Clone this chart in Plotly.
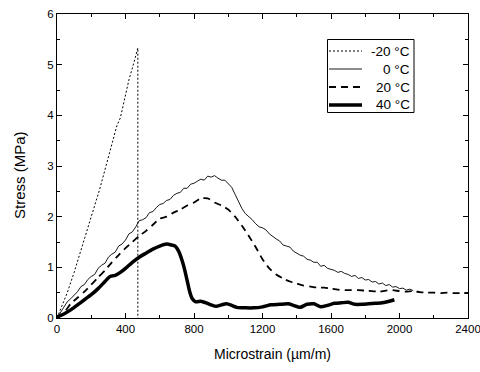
import plotly.graph_objects as go

# -20 °C
x_m20 = [0, 30, 60, 100, 150, 200, 250, 290, 320, 350, 370, 390, 420, 450, 472, 472]
y_m20 = [0.0, 0.25, 0.50, 0.90, 1.45, 2.00, 2.55, 3.05, 3.45, 3.80, 3.95, 4.25, 4.70, 5.05, 5.33, 0.0]

# 0 °C
x_0 = [0, 20, 40, 60, 80, 100, 120, 140, 160, 180, 200, 220, 240, 260, 280, 300, 320, 340, 360, 380,
       400, 420, 440, 460, 480, 500, 520, 540, 560, 580, 600, 620, 640, 660, 680, 700, 720, 740, 760, 780,
       800, 820, 840, 860, 880, 900, 920, 940, 960, 980, 1000, 1020, 1040, 1060, 1080, 1100, 1120, 1140,
       1160, 1180, 1200, 1220, 1240, 1260, 1280, 1300, 1320, 1340, 1360, 1380, 1400, 1420, 1440, 1460,
       1480, 1500, 1520, 1540, 1560, 1580, 1600, 1620, 1640, 1660, 1680, 1700, 1720, 1740, 1760, 1780,
       1800, 1820, 1840, 1860, 1880, 1900, 1920, 1940, 1960, 1980, 2000, 2020, 2040, 2060, 2080]
y_0 = [0.00, 0.10, 0.22, 0.32, 0.38, 0.45, 0.52, 0.62, 0.66, 0.76, 0.82, 0.86, 0.98, 1.04, 1.08, 1.20,
       1.26, 1.30, 1.42, 1.46, 1.54, 1.66, 1.70, 1.80, 1.92, 1.94, 1.98, 2.08, 2.10, 2.18, 2.24, 2.26,
       2.32, 2.34, 2.42, 2.46, 2.48, 2.56, 2.56, 2.64, 2.66, 2.70, 2.74, 2.72, 2.80, 2.78, 2.81, 2.76,
       2.72, 2.72, 2.66, 2.58, 2.44, 2.30, 2.16, 2.06, 2.00, 1.94, 1.86, 1.80, 1.78, 1.74, 1.66, 1.60,
       1.56, 1.52, 1.44, 1.42, 1.40, 1.32, 1.28, 1.24, 1.22, 1.16, 1.14, 1.10, 1.10, 1.02, 1.04, 0.98,
       0.96, 0.94, 0.90, 0.92, 0.88, 0.86, 0.82, 0.84, 0.78, 0.80, 0.75, 0.76, 0.71, 0.72, 0.67, 0.69,
       0.64, 0.66, 0.61, 0.62, 0.58, 0.59, 0.55, 0.57, 0.54]

# 20 °C
x_20 = [0, 40, 80, 120, 160, 200, 240, 280, 320, 360, 400, 440, 480, 520, 560, 600, 640, 680, 720, 760,
        800, 840, 880, 920, 960, 1000, 1040, 1080, 1120, 1160, 1200, 1240, 1280, 1320, 1360, 1400, 1440,
        1480, 1520, 1560, 1600, 1640, 1680, 1720, 1760, 1800, 1840, 1880, 1920, 1960, 2000, 2040, 2080,
        2120, 2160, 2200, 2240, 2280, 2320, 2360, 2400]
y_20 = [0.00, 0.10, 0.28, 0.40, 0.52, 0.66, 0.80, 0.94, 1.10, 1.24, 1.38, 1.50, 1.62, 1.72, 1.84, 1.96,
        2.00, 2.08, 2.14, 2.22, 2.28, 2.36, 2.36, 2.28, 2.22, 2.14, 2.00, 1.82, 1.62, 1.40, 1.16, 0.98,
        0.86, 0.78, 0.72, 0.68, 0.64, 0.62, 0.60, 0.60, 0.58, 0.56, 0.55, 0.55, 0.55, 0.54, 0.53, 0.52,
        0.54, 0.55, 0.53, 0.52, 0.53, 0.51, 0.50, 0.50, 0.49, 0.50, 0.49, 0.49, 0.49]

# 40 °C
x_40 = [0, 40, 80, 120, 160, 200, 240, 280, 310, 340, 370, 400, 440, 480, 520, 560, 600, 640, 670, 690,
        710, 730, 745, 760, 775, 790, 810, 840, 870, 900, 930, 960, 990, 1020, 1050, 1100, 1150, 1200,
        1250, 1300, 1350, 1380, 1420, 1460, 1500, 1540, 1580, 1620, 1660, 1700, 1740, 1780, 1820, 1860,
        1900, 1940, 1970]
y_40 = [0.02, 0.08, 0.16, 0.26, 0.36, 0.46, 0.58, 0.72, 0.82, 0.84, 0.90, 0.98, 1.10, 1.20, 1.28, 1.36,
        1.42, 1.46, 1.44, 1.42, 1.32, 1.14, 0.96, 0.74, 0.52, 0.38, 0.32, 0.33, 0.30, 0.26, 0.23, 0.26,
        0.28, 0.25, 0.21, 0.20, 0.20, 0.22, 0.26, 0.27, 0.28, 0.25, 0.21, 0.27, 0.28, 0.22, 0.25, 0.29,
        0.30, 0.31, 0.27, 0.27, 0.28, 0.29, 0.30, 0.33, 0.36]

names = ["-20 °C", "0 °C", "20 °C", "40 °C"]
x_ticks = [0, 400, 800, 1200, 1600, 2000, 2400]
y_ticks = [0, 1, 2, 3, 4, 5, 6]

W, H = 480, 372
L, R, T, B = 57, 12, 14, 54
PW, PH = W - L - R, H - T - B
FONT = "Liberation Sans, Arial"


def px(xp):
    return (xp - L) / PW


def py(yp):
    return (H - B - yp) / PH


styles = [
    dict(color="black", width=1, dash="2px,2px"),
    dict(color="black", width=0.9),
    dict(color="black", width=1.8, dash="7px,5px"),
    dict(color="black", width=3.5),
]
shapes_line = ["linear", "linear", "spline", "spline"]

fig = go.Figure()
for xs, ys, nm, st, shp in zip([x_m20, x_0, x_20, x_40], [y_m20, y_0, y_20, y_40], names, styles, shapes_line):
    line = dict(st, shape=shp)
    if shp == "spline":
        line["smoothing"] = 0.6
    fig.add_trace(go.Scatter(x=xs, y=ys, mode="lines", name=nm, line=line, showlegend=False))

axis_common = dict(showgrid=False, zeroline=False, showline=True, linecolor="black", linewidth=1,
                   mirror="allticks", ticks="inside", ticklen=5, tickcolor="black", automargin=False,
                   ticklabeloverflow="allow",
                   tickfont=dict(family=FONT, size=11.5, color="black"))

fig.update_xaxes(range=[0, 2400], tickvals=x_ticks,
                 minor=dict(ticks="inside", ticklen=3, dtick=200, tick0=0, tickcolor="black"),
                 **axis_common)
fig.update_yaxes(range=[0, 6], tickvals=y_ticks,
                 minor=dict(ticks="inside", ticklen=3, dtick=0.5, tick0=0, tickcolor="black"),
                 **axis_common)

# legend box drawn manually (right-aligned labels like the reference)
shapes = [dict(type="rect", xref="paper", yref="paper", x0=px(327.5), x1=px(414), y0=py(112.5), y1=py(39.5),
               line=dict(color="black", width=1), fillcolor="white", layer="above")]
annotations = []
rows = [51, 69, 87, 105]
for nm, st, ry in zip(names, styles, rows):
    shapes.append(dict(type="line", xref="paper", yref="paper", x0=px(329), x1=px(362), y0=py(ry), y1=py(ry),
                       line=st, layer="above"))
    annotations.append(dict(text=nm, xref="paper", yref="paper", x=px(411.5), y=py(ry), xanchor="right",
                            yanchor="middle", showarrow=False, font=dict(family=FONT, size=13.5, color="black")))

annotations.append(dict(text="Microstrain (µm/m)", xref="paper", yref="paper", x=px(272.5), y=py(353.5),
                        xanchor="center", yanchor="middle", showarrow=False,
                        font=dict(family=FONT, size=14, color="black")))
annotations.append(dict(text="Stress (MPa)", xref="paper", yref="paper", x=px(19), y=py(175),
                        xanchor="center", yanchor="middle", showarrow=False, textangle=-90,
                        font=dict(family=FONT, size=15, color="black")))

fig.update_layout(
    width=W, height=H,
    margin=dict(l=L, r=R, t=T, b=B),
    paper_bgcolor="white", plot_bgcolor="white",
    font=dict(family=FONT, color="black"),
    showlegend=False,
    shapes=shapes,
    annotations=annotations,
)

fig.write_html("out.html", config={"displayModeBar": False},
               post_script="document.body.style.margin='0';document.body.style.overflow='hidden';")
